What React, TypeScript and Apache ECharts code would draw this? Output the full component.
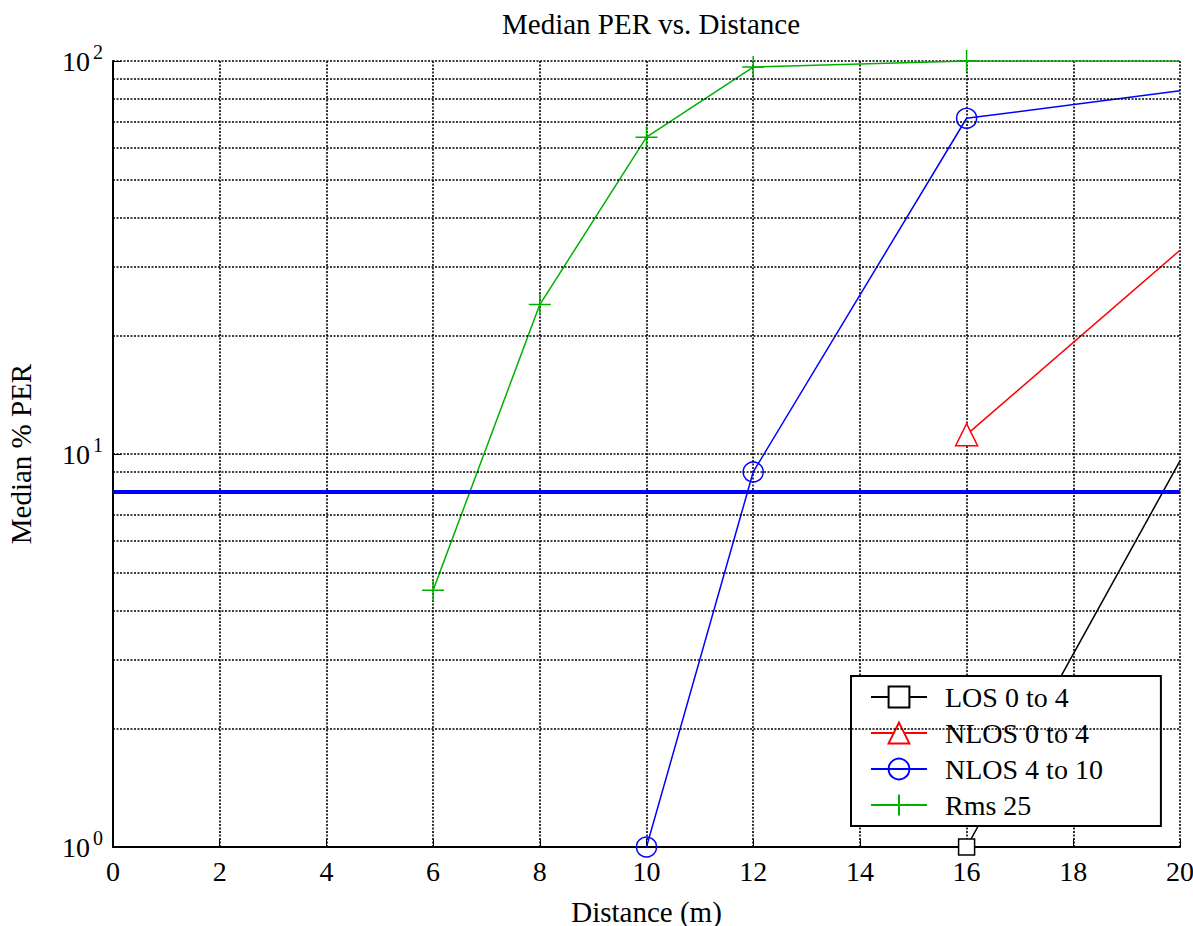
import React, { useEffect, useRef } from "react";
import * as echarts from "echarts";

const seriesNames = ["LOS 0 to 4", "NLOS 0 to 4", "NLOS 4 to 10", "Rms 25"];
const losX = [16, 20];
const losY = [1.0, 9.6];
const nlos04X = [16, 20];
const nlos04Y = [11.2, 33];
const nlos410X = [10, 12, 16, 20];
const nlos410Y = [1.0, 9.0, 71.5, 84];
const rmsX = [6, 8, 10, 12, 16, 20];
const rmsY = [4.5, 24, 64, 96.5, 100, 100];
const thresholdPER = 8;
const minorGridValues = [2, 3, 4, 5, 6, 7, 8, 9, 20, 30, 40, 50, 60, 70, 80, 90];
const unmarkedX = 20;

const FONT = "Liberation Serif";

function toData(xs: number[], ys: number[]) {
  return xs.map((x, i) =>
    x === unmarkedX ? { value: [x, ys[i]], symbol: "none" } : { value: [x, ys[i]] }
  );
}

export default function App() {
  const ref = useRef<HTMLDivElement>(null);
  useEffect(() => {
    if (!ref.current) return;
    const chart = echarts.init(ref.current, undefined, { renderer: "svg" });
    const gridLine = { color: "#000", width: 1.6, type: [2, 1.5] as any };
    const option: any = {
      animation: false,
      backgroundColor: "#fff",
      title: {
        text: "Median PER vs. Distance",
        left: 646,
        top: 4,
        textAlign: "center",
        textStyle: { fontFamily: FONT, fontSize: 29, fontWeight: "normal", color: "#000" },
      },
      grid: {
        left: 113,
        right: 13,
        top: 61,
        bottom: 79,
        containLabel: false,
        outerBoundsMode: "none",
      },
      xAxis: {
        type: "value",
        min: 0,
        max: 20,
        interval: 2,
        name: "Distance (m)",
        nameLocation: "middle",
        nameGap: 50,
        nameTextStyle: { fontFamily: FONT, fontSize: 29, color: "#000" },
        axisLine: { show: true, onZero: false, lineStyle: { color: "#000", width: 2 } },
        axisTick: { show: true, inside: true, length: 8, lineStyle: { color: "#000" } },
        axisLabel: { fontFamily: FONT, fontSize: 28, color: "#000", margin: 10 },
        splitLine: { show: true, lineStyle: gridLine },
      },
      yAxis: {
        type: "log",
        logBase: 10,
        min: 1,
        max: 100,
        name: "Median % PER",
        nameLocation: "middle",
        nameGap: 78,
        nameTextStyle: { fontFamily: FONT, fontSize: 29, color: "#000" },
        axisLine: { show: true, lineStyle: { color: "#000", width: 2 } },
        axisTick: { show: true, inside: true, length: 8, lineStyle: { color: "#000" } },
        axisLabel: {
          margin: 10,
          formatter: (v: number) => `{b|10}{s|${Math.round(Math.log10(v))}}`,
          rich: {
            b: { fontFamily: FONT, fontSize: 28, color: "#000" },
            s: { fontFamily: FONT, fontSize: 20, color: "#000", padding: [0, 0, 18, 3] },
          },
        },
        splitLine: { show: true, lineStyle: gridLine },
      },
      legend: {
        orient: "vertical",
        left: 851,
        top: 676,
        data: seriesNames,
        backgroundColor: "#fff",
        borderColor: "#000",
        borderWidth: 2,
        borderRadius: 0,
        padding: [7, 58, 7, 19],
        itemWidth: 56,
        itemHeight: 26,
        itemGap: 8,
        textStyle: { fontFamily: FONT, fontSize: 28, color: "#000", padding: [0, 0, 0, 13] },
      },
      series: [
        {
          name: "gridMinor",
          type: "line",
          data: [],
          silent: true,
          markLine: {
            silent: true,
            symbol: "none",
            label: { show: false },
            lineStyle: gridLine,
            data: minorGridValues.map((v) => ({ yAxis: v })),
          },
        },
        {
          name: "threshold",
          type: "line",
          data: [],
          silent: true,
          markLine: {
            silent: true,
            symbol: "none",
            label: { show: false },
            lineStyle: { color: "#0000ff", width: 4, type: "solid" },
            data: [{ yAxis: thresholdPER }],
          },
        },
        {
          name: seriesNames[0],
          type: "line",
          data: toData(losX, losY),
          symbol: "rect",
          symbolSize: 16,
          lineStyle: { color: "#000", width: 1.5 },
          itemStyle: { color: "#fff", borderColor: "#000", borderWidth: 1.5 },
        },
        {
          name: seriesNames[1],
          type: "line",
          data: toData(nlos04X, nlos04Y),
          symbol: "triangle",
          symbolSize: 22,
          lineStyle: { color: "#ff0000", width: 1.5 },
          itemStyle: { color: "#fff", borderColor: "#ff0000", borderWidth: 1.5 },
        },
        {
          name: seriesNames[2],
          type: "line",
          data: toData(nlos410X, nlos410Y),
          symbol: "circle",
          symbolSize: 20,
          lineStyle: { color: "#0000ff", width: 1.5 },
          itemStyle: { color: "rgba(255,255,255,0)", borderColor: "#0000ff", borderWidth: 1.5 },
        },
        {
          name: seriesNames[3],
          type: "line",
          data: toData(rmsX, rmsY),
          symbol: "path://M0,10L20,10M10,0L10,20",
          symbolSize: 22,
          lineStyle: { color: "#00b000", width: 1.5 },
          itemStyle: { color: "none", borderColor: "#00b000", borderWidth: 1.5 },
        },
      ],
    };
    chart.setOption(option);
    return () => chart.dispose();
  }, []);
  return <div ref={ref} style={{ width: 1193, height: 926, position: "absolute", left: 0, top: 0 }} />;
}
